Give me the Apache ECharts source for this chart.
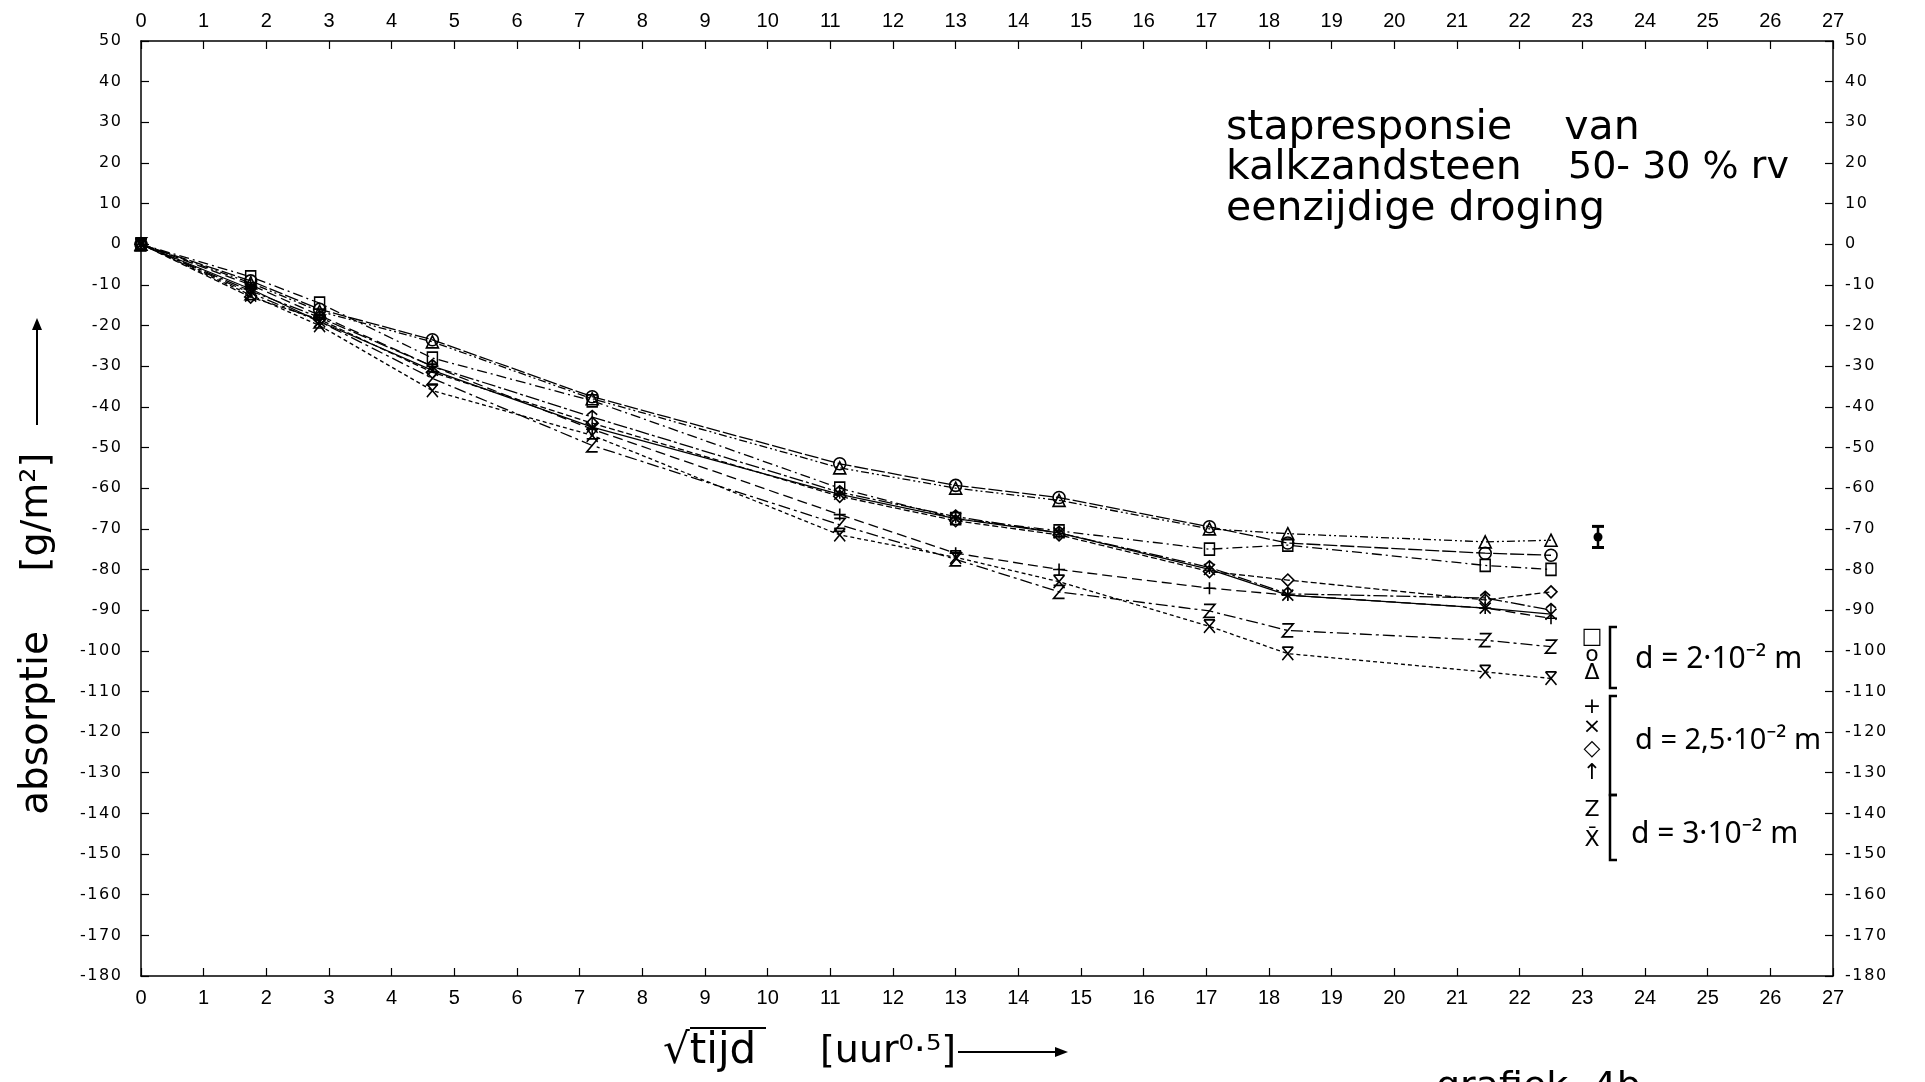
<!DOCTYPE html>
<html>
<head>
<meta charset="utf-8">
<script src="https://cdn.jsdelivr.net/npm/echarts@6/dist/echarts.min.js"></script>
<style>
  html, body { margin: 0; padding: 0; background: #fff; }
  #chart { width: 1925px; height: 1082px; }
</style>
</head>
<body>
<div id="chart"></div>
<script>
// √time (hours^0.5) at which each sample was weighed
const times = [0, 1.75, 2.85, 4.65, 7.2, 11.15, 13.0, 14.65, 17.05, 18.3, 21.45, 22.5];

// moisture absorption (g/m²), d = 2·10⁻² m
const squareVals   = [0, -8,   -14.5, -28,   -38.5, -60,   -67.5, -70.5, -75,   -74,   -79,   -80];
const circleVals   = [0, -9,   -16,   -23.5, -37.5, -54,   -59.3, -62.3, -69.5, -73.5, -76,   -76.5];
const triangleVals = [0, -9.5, -16.5, -24,   -38,   -55,   -60,   -63,   -70,   -71.2, -73.2, -72.8];
// d = 2,5·10⁻² m
const plusVals     = [0, -10,  -17.5, -30,   -45.5, -66.5, -76,   -80,   -84.6, -86.3, -89.5, -92];
const crossVals    = [0, -11,  -19,   -31,   -45,   -61.5, -67.5, -71,   -80,   -86.3, -89.5, -91];
const diamondVals  = [0, -13,  -18.5, -31.5, -44,   -62,   -68,   -71.5, -80.5, -82.6, -87.5, -85.5];
const arrowVals    = [0, -11.5,-18,   -30,   -42.5, -61,   -67,   -71,   -79.5, -86,   -87,   -90];
// d = 3·10⁻² m
const zedVals      = [0, -12,  -19,   -33,   -49.5, -69,   -77.5, -85.5, -90.2, -95,   -97.4, -99];
const barXVals     = [0, -12.5,-20,   -36,   -47,   -71.5, -77,   -83,   -94,   -100.7,-105.2,-106.8];

// spread indicator: [x, centre, half-range]
const errorBar = [23.25, -72, 2.6];

const xTicks = { min: 0, max: 27, step: 1 };
const yTicks = { min: -180, max: 50, step: 10 };

const SYM = {
  square: 'rect',
  circle: 'circle',
  triangle: 'triangle',
  plus: 'path://M5,0L5,10M0,5L10,5',
  cross: 'path://M0,0L10,10M10,0L0,10',
  diamond: 'diamond',
  arrow: 'path://M5,12L5,0M1.5,4L5,0L8.5,4',
  zed: 'path://M0,0L10,0L0,12L10,12',
  barx: 'path://M0,0L10,0M0,0L10,12M10,0L0,12'
};

const seriesDefs = [
  { name: 'square',   vals: squareVals,   sym: SYM.square,   size: [10, 12], dash: [10, 4, 2, 4] },
  { name: 'circle',   vals: circleVals,   sym: SYM.circle,   size: 12,       dash: [14, 3] },
  { name: 'triangle', vals: triangleVals, sym: SYM.triangle, size: 12,       dash: [8, 3, 2, 3, 2, 3] },
  { name: 'plus',     vals: plusVals,     sym: SYM.plus,     size: 12,       dash: [10, 5] },
  { name: 'cross',    vals: crossVals,    sym: SYM.cross,    size: 11,       dash: 'solid' },
  { name: 'diamond',  vals: diamondVals,  sym: SYM.diamond,  size: 12,       dash: [6, 3] },
  { name: 'arrow',    vals: arrowVals,    sym: SYM.arrow,    size: [10, 13], dash: [14, 3, 3, 3] },
  { name: 'zed',      vals: zedVals,      sym: SYM.zed,      size: [11, 13], dash: [12, 4, 3, 4] },
  { name: 'barx',     vals: barXVals,     sym: SYM.barx,     size: [11, 13], dash: [4, 3] }
];

const spaced = v => String(v).split('').join('\u200a');

const xAxisBase = {
  type: 'value', min: xTicks.min, max: xTicks.max, interval: xTicks.step,
  axisLine: { show: true, onZero: false, lineStyle: { color: '#000', width: 1.5 } },
  axisTick: { show: true, inside: true, length: 8, lineStyle: { color: '#000', width: 1.2 } },
  axisLabel: { color: '#000', fontFamily: '"Liberation Sans", sans-serif', fontSize: 20, margin: 12,
               showMinLabel: true, showMaxLabel: true },
  splitLine: { show: false }
};
const yAxisBase = {
  type: 'value', min: yTicks.min, max: yTicks.max, interval: yTicks.step,
  axisLine: { show: true, onZero: false, lineStyle: { color: '#000', width: 1.5 } },
  axisTick: { show: true, inside: true, length: 8, lineStyle: { color: '#000', width: 1.2 } },
  axisLabel: { color: '#000', fontFamily: '"DejaVu Sans", sans-serif', fontSize: 16,
               showMinLabel: true, showMaxLabel: true, formatter: spaced },
  splitLine: { show: false }
};

const lineSeries = seriesDefs.map(d => ({
  name: d.name,
  type: 'line',
  xAxisIndex: 0, yAxisIndex: 0,
  data: times.map((t, i) => [t, d.vals[i]]),
  symbol: d.sym,
  symbolSize: d.size,
  showAllSymbol: true,
  animation: false,
  lineStyle: { color: '#000', width: 1.3, type: d.dash },
  itemStyle: { color: 'rgba(255,255,255,0)', borderColor: '#000', borderWidth: 1.6 },
  z: 3
}));

const errSeries = {
  type: 'custom',
  xAxisIndex: 0, yAxisIndex: 0,
  animation: false,
  data: [errorBar],
  renderItem: (params, api) => {
    const x = api.value(0), c = api.value(1), h = api.value(2);
    const top = api.coord([x, c + h]);
    const bot = api.coord([x, c - h]);
    const mid = api.coord([x, c]);
    const st = { stroke: '#000', lineWidth: 3 };
    return {
      type: 'group',
      children: [
        { type: 'line', shape: { x1: top[0], y1: top[1], x2: bot[0], y2: bot[1] }, style: { stroke: '#000', lineWidth: 2.5 } },
        { type: 'line', shape: { x1: top[0] - 6, y1: top[1], x2: top[0] + 6, y2: top[1] }, style: st },
        { type: 'line', shape: { x1: bot[0] - 6, y1: bot[1], x2: bot[0] + 6, y2: bot[1] }, style: st },
        { type: 'circle', shape: { cx: mid[0], cy: mid[1], r: 4.5 }, style: { fill: '#000' } }
      ]
    };
  }
};

const FONT = '"DejaVu Sans"';
const txt = (x, y, text, size, family, extra) => ({
  type: 'text', x, y,
  style: Object.assign({ text, fill: '#000', font: `${size}px ${family || FONT}`, textAlign: 'left', textVerticalAlign: 'middle' }, extra || {})
});

const legendGlyphFont = '22px "DejaVu Sans"';
const glyph = (y, ch) => ({ type: 'text', x: 1592, y, style: { text: ch, fill: '#000', font: legendGlyphFont, textAlign: 'center', textVerticalAlign: 'middle' } });
const bracket = (y1, y2) => ({
  type: 'polyline', shape: { points: [[1617, y1], [1610, y1], [1610, y2], [1617, y2]] },
  style: { stroke: '#000', lineWidth: 2.5, fill: 'none' }
});

const graphics = [
  // title block
  txt(1226, 128, 'stapresponsie    van', 41),
  txt(1226, 168, 'kalkzandsteen', 41),
  txt(1568, 168, '50- 30 % rv', 38),
  txt(1226, 209, 'eenzijdige droging', 41),
  // vertical axis name
  { type: 'text', x: 37, y: 723, rotation: Math.PI / 2,
    style: { text: 'absorptie', fill: '#000', font: `39px ${FONT}`, textAlign: 'center', textVerticalAlign: 'middle' } },
  { type: 'text', x: 37, y: 512, rotation: Math.PI / 2,
    style: { text: '[g/m²]', fill: '#000', font: `38px ${FONT}`, textAlign: 'center', textVerticalAlign: 'middle' } },
  { type: 'line', shape: { x1: 37, y1: 425, x2: 37, y2: 326 }, style: { stroke: '#000', lineWidth: 2 } },
  { type: 'polygon', shape: { points: [[37, 318], [32, 330], [42, 330]] }, style: { fill: '#000' } },
  // horizontal axis name
  txt(663, 1052, '√tijd', 42),
  { type: 'line', shape: { x1: 690, y1: 1028, x2: 766, y2: 1028 }, style: { stroke: '#000', lineWidth: 2 } },
  txt(820, 1052, '[uur⁰·⁵]', 38),
  { type: 'line', shape: { x1: 958, y1: 1052, x2: 1058, y2: 1052 }, style: { stroke: '#000', lineWidth: 2 } },
  { type: 'polygon', shape: { points: [[1068, 1052], [1055, 1047], [1055, 1057]] }, style: { fill: '#000' } },
  txt(1436, 1088, 'grafiek  4b', 38),
  // legend glyph column with brackets
  glyph(637, '□'), glyph(655, 'o'), glyph(673, 'Δ'),
  glyph(707, '+'), glyph(727, '×'), glyph(749, '◇'), glyph(773, '↑'),
  glyph(810, 'Z'), glyph(840, 'X̄'),
  bracket(627, 688), bracket(696, 795), bracket(795, 860),
  txt(1635, 659, 'd = 2·10⁻² m', 30, '"Noto Sans"'),
  txt(1635, 741, 'd = 2,5·10⁻² m', 29, '"Noto Sans"'),
  txt(1631, 834, 'd = 3·10⁻² m', 30, '"Noto Sans"')
];

const chart = echarts.init(document.getElementById('chart'), null, { renderer: 'canvas' });
chart.setOption({
  backgroundColor: '#fff',
  animation: false,
  grid: { left: 141, right: 92, top: 41, bottom: 106, containLabel: false },
  xAxis: [
    Object.assign({}, xAxisBase, { position: 'bottom' }),
    Object.assign({}, xAxisBase, { position: 'top', axisLabel: Object.assign({}, xAxisBase.axisLabel, { margin: 10 }) })
  ],
  yAxis: [
    Object.assign({}, yAxisBase, { position: 'left', axisLabel: Object.assign({}, yAxisBase.axisLabel, { margin: 20 }) }),
    Object.assign({}, yAxisBase, { position: 'right', axisLabel: Object.assign({}, yAxisBase.axisLabel, { margin: 12 }) })
  ],
  series: lineSeries.concat([errSeries]),
  graphic: graphics
});
</script>
</body>
</html>
